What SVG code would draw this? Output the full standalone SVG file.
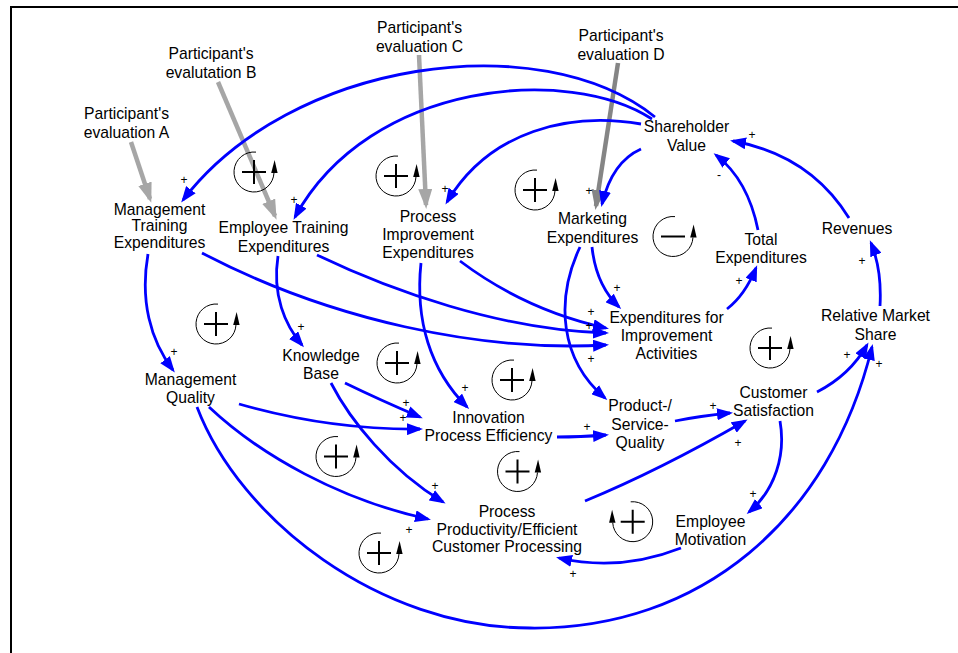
<svg xmlns="http://www.w3.org/2000/svg" xmlns:xlink="http://www.w3.org/1999/xlink" width="958" height="653" viewBox="0 0 958 653">
<style>
.t{font-family:"Liberation Sans",Arial,sans-serif;font-size:15.7px;text-anchor:middle;fill:#000}
.s{font-family:"Liberation Sans",Arial,sans-serif;font-size:12px;text-anchor:middle;fill:#000}
.c{fill:none;stroke:#0000FF;stroke-width:2.8;marker-end:url(#ab)}
.g{fill:none;stroke:#A6A6A6;stroke-width:4.5;marker-end:url(#ag)}
.gd{fill:none;stroke:#858585;stroke-width:4.5;marker-end:url(#agd)}
.la{fill:none;stroke:#000;stroke-width:1}
.lx{fill:none;stroke:#000;stroke-width:2}
</style>
<defs>
<marker id="ab" markerUnits="userSpaceOnUse" viewBox="0 0 16 12" markerWidth="16" markerHeight="12" refX="13" refY="6" orient="auto"><path d="M0,0 L16,6 L0,12 z" fill="#0000FF"/></marker>
<marker id="ag" markerUnits="userSpaceOnUse" viewBox="0 0 20 14" markerWidth="20" markerHeight="14" refX="16" refY="7" orient="auto"><path d="M0,0 L20,7 L0,14 z" fill="#A6A6A6"/></marker>
<marker id="agd" markerUnits="userSpaceOnUse" viewBox="0 0 20 14" markerWidth="20" markerHeight="14" refX="16" refY="7" orient="auto"><path d="M0,0 L20,7 L0,14 z" fill="#858585"/></marker>
<g id="lp">
<path class="la" d="M2,-19.9 A20,20 0 1 0 19.97,1"/>
<polygon points="17.2,1 23.6,1 20.6,-12" fill="#000"/>
<path class="lx" d="M-12,0 H12 M0,-12 V12"/>
</g>
<g id="lm">
<path class="la" d="M2,-19.9 A20,20 0 1 0 19.97,1"/>
<polygon points="17.2,1 23.6,1 20.6,-12" fill="#000"/>
<path class="lx" d="M-12,0 H12"/>
</g>
</defs>
<rect width="958" height="653" fill="#fff"/>
<path d="M11,653 V7 H958" fill="none" stroke="#000" stroke-width="2"/>

<g id="connectors">
<path class="g" d="M131,142 L150,199"/>
<path class="g" d="M218,82 L275,216"/>
<path class="g" d="M419,55 L426,205"/>
<path class="gd" d="M618,63 L596,206"/>
<path class="c" d="M655,117 C540,25 290,60 183,200"/>
<path class="c" d="M652,119 C570,65 370,80 295,217"/>
<path class="c" d="M641,124 C570,112 490,130 447,202"/>
<path class="c" d="M641,149 Q612,162 602,204"/>
<path class="c" d="M758,230 Q748,180 716,155"/>
<path class="c" d="M849,218 Q810,155 733,141"/>
<path class="c" d="M880,306 Q882,270 871,243"/>
<path class="c" d="M817,392 Q850,375 867,345"/>
<path class="c" d="M197,407 C240,520 380,628 530,628 C700,630 830,520 872,347"/>
<path class="c" d="M780,421 C786,455 775,490 749,512"/>
<path class="c" d="M681,548 Q620,572 559,558"/>
<path class="c" d="M585,501 Q660,470 745,421"/>
<path class="c" d="M675,421 Q700,416 730,413"/>
<path class="c" d="M557,437 Q580,437 606,435"/>
<path class="c" d="M580,247 C555,300 560,360 605,398"/>
<path class="c" d="M592,247 Q596,285 619,307"/>
<path class="c" d="M727,309 Q745,295 756,268"/>
<path class="c" d="M460,261 Q525,310 606,328"/>
<path class="c" d="M317,255 C390,290 500,330 606,333"/>
<path class="c" d="M202,253 C330,320 480,352 606,345"/>
<path class="c" d="M421,263 C415,320 430,370 467,407"/>
<path class="c" d="M278,256 C272,295 285,325 302,345"/>
<path class="c" d="M148,254 C140,300 150,340 173,370"/>
<path class="c" d="M345,383 Q380,400 420,417"/>
<path class="c" d="M239,404 Q330,430 420,429"/>
<path class="c" d="M331,383 C350,420 390,470 443,502"/>
<path class="c" d="M209,407 C260,455 340,500 428,519"/>
</g>

<g id="polarities">
<text class="s" x="184" y="183.5">+</text>
<text class="s" x="294" y="203.5">+</text>
<text class="s" x="445" y="192.5">+</text>
<text class="s" x="589" y="194.5">+</text>
<text class="s" x="719" y="179">-</text>
<text class="s" x="752" y="138.5">+</text>
<text class="s" x="862" y="264.5">+</text>
<text class="s" x="847" y="358.5">+</text>
<text class="s" x="879" y="367.5">+</text>
<text class="s" x="753" y="497.5">+</text>
<text class="s" x="573" y="577.5">+</text>
<text class="s" x="738" y="446.5">+</text>
<text class="s" x="713" y="409.5">+</text>
<text class="s" x="587" y="430.5">+</text>
<text class="s" x="617" y="291.5">+</text>
<text class="s" x="739" y="284.5">+</text>
<text class="s" x="591" y="315.5">+</text>
<text class="s" x="589" y="329.5">+</text>
<text class="s" x="591" y="362.5">+</text>
<text class="s" x="465" y="391.5">+</text>
<text class="s" x="301" y="330.5">+</text>
<text class="s" x="174" y="355.5">+</text>
<text class="s" x="406" y="406.5">+</text>
<text class="s" x="403" y="421.5">+</text>
<text class="s" x="435" y="489.5">+</text>
<text class="s" x="409" y="533.5">+</text>
</g>

<g id="loops">
<use xlink:href="#lp" href="#lp" x="254" y="172"/>
<use xlink:href="#lp" href="#lp" x="396" y="176"/>
<use xlink:href="#lp" href="#lp" x="535" y="190"/>
<use xlink:href="#lm" href="#lm" x="673" y="236.5"/>
<use xlink:href="#lp" href="#lp" x="216" y="324"/>
<use xlink:href="#lp" href="#lp" x="397" y="363"/>
<use xlink:href="#lp" href="#lp" x="512" y="380"/>
<use xlink:href="#lp" href="#lp" x="770" y="348"/>
<use xlink:href="#lp" href="#lp" x="336" y="456.5"/>
<use xlink:href="#lp" href="#lp" x="517.5" y="471.5"/>
<use xlink:href="#lp" href="#lp" x="379" y="553"/>
<g transform="translate(632.7,521.7) scale(-1,1)"><use xlink:href="#lp" href="#lp"/></g>
</g>

<g id="evalA"><text class="t" x="126.5" y="118.5">Participant's</text><text class="t" x="126.5" y="137.5">evaluation A</text></g>
<g id="evalB"><text class="t" x="211" y="58.5">Participant's</text><text class="t" x="211" y="77.5">evalutation B</text></g>
<g id="evalC"><text class="t" x="419.5" y="33">Participant's</text><text class="t" x="419.5" y="52">evaluation C</text></g>
<g id="evalD"><text class="t" x="621" y="40.5">Participant's</text><text class="t" x="621" y="59.5">evaluation D</text></g>
<g id="shareholderValue"><text class="t" x="686.5" y="132">Shareholder</text><text class="t" x="686.5" y="150.5">Value</text></g>
<g id="revenues"><text class="t" x="857" y="233.5">Revenues</text></g>
<g id="totalExpenditures"><text class="t" x="761" y="244.5">Total</text><text class="t" x="761" y="263">Expenditures</text></g>
<g id="relativeMarketShare"><text class="t" x="875.5" y="321">Relative Market</text><text class="t" x="875.5" y="339.5">Share</text></g>
<g id="customerSatisfaction"><text class="t" x="773.5" y="398">Customer</text><text class="t" x="773.5" y="416">Satisfaction</text></g>
<g id="employeeMotivation"><text class="t" x="710.5" y="527">Employee</text><text class="t" x="710.5" y="545">Motivation</text></g>
<g id="processProductivity"><text class="t" x="507" y="517">Process</text><text class="t" x="507" y="534.5">Productivity/Efficient</text><text class="t" x="507" y="552">Customer Processing</text></g>
<g id="innovationProcessEfficiency"><text class="t" x="488.5" y="423">Innovation</text><text class="t" x="488.5" y="440.5">Process Efficiency</text></g>
<g id="productServiceQuality"><text class="t" x="640" y="411">Product-/</text><text class="t" x="640" y="429.5">Service-</text><text class="t" x="640" y="448">Quality</text></g>
<g id="expendituresImprovement"><text class="t" x="666.5" y="323">Expenditures for</text><text class="t" x="666.5" y="340.5">Improvement</text><text class="t" x="666.5" y="358.5">Activities</text></g>
<g id="marketingExpenditures"><text class="t" x="592.5" y="224">Marketing</text><text class="t" x="592.5" y="243">Expenditures</text></g>
<g id="processImprovementExpenditures"><text class="t" x="428" y="222">Process</text><text class="t" x="428" y="240">Improvement</text><text class="t" x="428" y="258">Expenditures</text></g>
<g id="employeeTrainingExpenditures"><text class="t" x="283.5" y="233">Employee Training</text><text class="t" x="283.5" y="252">Expenditures</text></g>
<g id="managementTrainingExpenditures"><text class="t" x="159.5" y="214.5">Management</text><text class="t" x="159.5" y="231">Training</text><text class="t" x="159.5" y="248">Expenditures</text></g>
<g id="knowledgeBase"><text class="t" x="321" y="360.5">Knowledge</text><text class="t" x="321" y="378.5">Base</text></g>
<g id="managementQuality"><text class="t" x="190.5" y="384.5">Management</text><text class="t" x="190.5" y="403">Quality</text></g>
</svg>
